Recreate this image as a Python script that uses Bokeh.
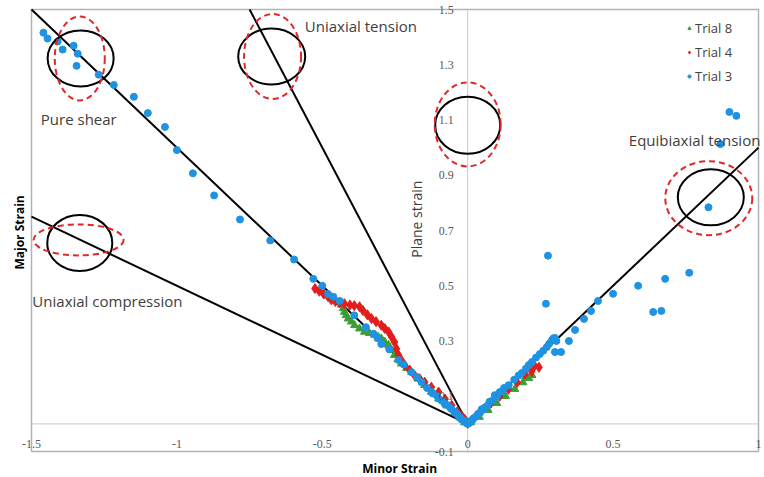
import math
from bokeh.plotting import figure
from bokeh.models import ColumnDataSource, LabelSet, Label, Legend, LegendItem, BoxAnnotation
from bokeh.embed import file_html
from bokeh.resources import INLINE

# ---------------- axes ----------------
x_min, x_max = -1.5, 1.0
y_min, y_max = -0.1, 1.5
x_ticks = [-1.5, -1.0, -0.5, 0.0, 0.5, 1.0]
x_tick_labels = ["-1.5", "-1", "-0.5", "0", "0.5", "1"]
y_ticks = [-0.1, 0.1, 0.3, 0.5, 0.7, 0.9, 1.1, 1.3, 1.5]
y_tick_labels = ["-0.1", "0.1", "0.3", "0.5", "0.7", "0.9", "1.1", "1.3", "1.5"]

# ---------------- data ----------------
trial3_x = [-1.459, -1.445, -1.410, -1.393, -1.355, -1.341, -1.345, -1.269, -1.217, -1.148,
            -1.100, -1.041, -1.000, -0.945, -0.872, -0.783, -0.679, -0.597, -0.531,
            -0.500, -0.480, -0.462, -0.440, -0.390, -0.350, -0.324, -0.310, -0.297, -0.270,
            -0.238, -0.220, -0.193, -0.175, -0.159, -0.140, -0.124, -0.105, -0.090, -0.070,
            -0.055, -0.040, -0.030, -0.021, -0.010, -0.004, 0.000, 0.005,
            -0.120, -0.100, -0.080, -0.060, -0.045, -0.035, -0.025, -0.015,
            0.010, 0.020, 0.035, 0.048, 0.060, 0.075, 0.093, 0.110, 0.125, 0.141, 0.160,
            0.175, 0.186, 0.200, 0.210, 0.221, 0.235, 0.248, 0.260, 0.272, 0.280, 0.290,
            0.300, 0.295, 0.305, 0.015, 0.028, 0.042, 0.055, 0.068, 0.085, 0.100, 0.118,
            0.276, 0.269, 0.300, 0.321, 0.348, 0.369, 0.400, 0.424, 0.448, 0.500, 0.586,
            0.638, 0.666, 0.679, 0.762, 0.828, 0.869, 0.900, 0.924]
trial3_y = [1.416, 1.395, 1.384, 1.355, 1.369, 1.340, 1.296, 1.264, 1.227, 1.184,
            1.125, 1.075, 0.991, 0.907, 0.827, 0.740, 0.664, 0.595, 0.525,
            0.500, 0.470, 0.460, 0.445, 0.393, 0.350, 0.326, 0.310, 0.289, 0.270,
            0.231, 0.215, 0.187, 0.170, 0.151, 0.130, 0.115, 0.100, 0.085, 0.068,
            0.053, 0.038, 0.026, 0.016, 0.008, 0.003, 0.000, 0.003,
            0.110, 0.092, 0.074, 0.058, 0.044, 0.033, 0.022, 0.012,
            0.010, 0.020, 0.035, 0.053, 0.060, 0.080, 0.104, 0.115, 0.130, 0.140, 0.160,
            0.175, 0.184, 0.200, 0.213, 0.224, 0.240, 0.253, 0.265, 0.278, 0.290, 0.304,
            0.311, 0.310, 0.300, 0.012, 0.026, 0.040, 0.052, 0.066, 0.084, 0.098, 0.118,
            0.609, 0.435, 0.260, 0.260, 0.300, 0.340, 0.380, 0.409, 0.445, 0.471, 0.500,
            0.405, 0.409, 0.525, 0.547, 0.784, 1.013, 1.129, 1.115]

trial4_x = [-0.525, -0.510, -0.495, -0.480, -0.469, -0.455, -0.440, -0.424, -0.405, -0.390,
            -0.372, -0.360, -0.345, -0.331, -0.315, -0.297, -0.285, -0.272, -0.262, -0.252,
            -0.245, -0.238, -0.228, -0.217, -0.200, -0.183, -0.165, -0.148, -0.125, -0.100,
            -0.078, -0.055, -0.035, -0.020, -0.010, 0.000,
            0.010, 0.030, 0.050, 0.080, 0.110, 0.140, 0.170, 0.197, 0.220, 0.245, 0.230]
trial4_y = [0.490, 0.480, 0.470, 0.460, 0.449, 0.443, 0.438, 0.435, 0.430, 0.428,
            0.424, 0.410, 0.395, 0.381, 0.370, 0.357, 0.345, 0.333, 0.315, 0.296,
            0.272, 0.249, 0.230, 0.213, 0.195, 0.176, 0.163, 0.151, 0.133, 0.115,
            0.090, 0.067, 0.045, 0.028, 0.016, 0.002,
            0.010, 0.030, 0.050, 0.075, 0.100, 0.125, 0.150, 0.180, 0.190, 0.205, 0.210]

trial8_x = [-0.458, -0.445, -0.434, -0.428, -0.424, -0.418, -0.411, -0.400, -0.389, -0.372,
            -0.355, -0.338, -0.320, -0.308, -0.297, -0.285, -0.272, -0.262, -0.252, -0.240,
            -0.228, -0.210, -0.193, -0.170, -0.148, -0.125, -0.100, -0.072, -0.045, -0.025,
            -0.010,
            0.010, 0.040, 0.070, 0.100, 0.130, 0.162, 0.190, 0.210, 0.221, 0.200]
trial8_y = [0.453, 0.440, 0.431, 0.418, 0.405, 0.393, 0.381, 0.370, 0.357, 0.345,
            0.333, 0.328, 0.322, 0.315, 0.309, 0.297, 0.285, 0.268, 0.249, 0.233,
            0.218, 0.202, 0.187, 0.163, 0.140, 0.116, 0.091, 0.066, 0.042, 0.022,
            0.005,
            0.005, 0.025, 0.050, 0.075, 0.100, 0.126, 0.150, 0.165, 0.176, 0.170]

# reference strain-path lines (through the origin)
ref_x0 = [-1.5, -0.75, -1.5, 0.0]
ref_y0 = [1.5, 1.5, 0.75, 0.0]
ref_x1 = [0.0, 0.0, 0.0, 1.0]
ref_y1 = [0.0, 0.0, 0.0, 1.0]

# zone markers (solid circles / dashed ellipses), centres in data units
zone_x = [-1.331, -0.674, 0.000, 0.836, -1.334]
zone_y = [1.323, 1.330, 1.081, 0.820, 0.655]
dash_x = [-1.334, -0.671, 0.000, 0.829, -1.338]
dash_y = [1.323, 1.330, 1.084, 0.817, 0.666]

# annotation texts
ann_text = ["Pure shear", "Uniaxial tension", "Uniaxial compression", "Equibiaxial tension"]
ann_x = [-1.468, -0.560, -1.497, 0.554]
ann_y = [1.102, 1.442, 0.443, 1.026]

# ---------------- styles ----------------
zone_w_px = [66, 67, 65, 66, 65]
zone_h_px = [56, 56, 57, 56, 56]
dash_w_px = [50, 57, 66, 87, 90]
dash_h_px = [84, 85, 84, 74, 31]

FONT = "Open Sans"
TXT = "#404040"
TICK = "#595959"

# plot-box placement inside the 764x477 canvas (pixels)
W, H = 764, 477
box_l, box_r, box_t, box_b = 31, 758, 9, 451
sx = (box_r - box_l) / (x_max - x_min)
sy = (box_b - box_t) / (y_max - y_min)
xr = (x_min - box_l / sx, x_max + (W - box_r) / sx)
yr = (y_min - (H - box_b) / sy, y_max + box_t / sy)

p = figure(width=W, height=H, x_range=xr, y_range=yr,
           output_backend="svg", toolbar_location=None,
           x_axis_location=None, y_axis_location=None,
           min_border=0)
p.xgrid.visible = False
p.ygrid.visible = False
p.outline_line_color = None
p.background_fill_color = "white"
p.border_fill_color = "white"

# plot box
p.add_layout(BoxAnnotation(left=x_min, right=x_max, bottom=y_min, top=y_max,
                           fill_alpha=0, line_color="black", line_width=1.5, level="underlay"))

# gray axes through zero
p.segment(x0=[0, x_min], y0=[y_min, 0], x1=[0, x_max], y1=[y_max, 0],
          line_color="#c8c8c8", line_width=1)

# reference lines
p.segment(x0=ref_x0, y0=ref_y0, x1=ref_x1, y1=ref_y1, line_color="black", line_width=2)

# data
r8 = p.scatter(trial8_x, trial8_y, marker="triangle", size=8, fill_color="#3A9E35",
               line_color="#3A9E35")
r4 = p.scatter(trial4_x, trial4_y, marker="diamond", size=10, fill_color="#E41C1C",
               line_color="#E41C1C")
r3 = p.scatter(trial3_x, trial3_y, marker="circle", size=7, fill_color="#1F93E2",
               line_color="#1F93E2")

# zone circles
zsrc = ColumnDataSource(dict(x=zone_x, y=zone_y, w=zone_w_px, h=zone_h_px))
p.ellipse(x="x", y="y", width="w", height="h", width_units="screen", height_units="screen",
          source=zsrc, fill_color=None, line_color="black", line_width=2)
dsrc = ColumnDataSource(dict(x=dash_x, y=dash_y, w=dash_w_px, h=dash_h_px))
p.ellipse(x="x", y="y", width="w", height="h", width_units="screen", height_units="screen",
          source=dsrc, fill_color=None, line_color="#E0282A", line_width=2, line_dash="6 4")

# tick labels
xs = ColumnDataSource(dict(x=x_ticks, y=[0] * len(x_ticks), t=x_tick_labels))
p.add_layout(LabelSet(x="x", y="y", text="t", source=xs, y_offset=-20, text_align="center",
                      text_baseline="middle", text_font=FONT, text_font_size="12px",
                      text_color=TICK))
ys = ColumnDataSource(dict(x=[0] * len(y_ticks), y=y_ticks, t=y_tick_labels))
p.add_layout(LabelSet(x="x", y="y", text="t", source=ys, x_offset=-14, text_align="right",
                      text_baseline="middle", text_font=FONT, text_font_size="12px",
                      text_color=TICK))

# annotations
for t, x, y in zip(ann_text, ann_x, ann_y):
    p.add_layout(Label(x=x, y=y, text=t, text_align="left", text_baseline="middle",
                       text_font=FONT, text_font_size="15px", text_color=TXT))
p.add_layout(Label(x=-0.175, y=0.741, text="Plane strain", angle=math.pi / 2,
                   text_align="center", text_baseline="middle", text_font=FONT,
                   text_font_size="14px", text_color=TXT))

# axis titles
p.add_layout(Label(x=-0.234, y=y_min, y_offset=-17, text="Minor Strain", text_align="center",
                   text_baseline="middle", text_font=FONT, text_font_size="12px",
                   text_font_style="bold", text_color="black"))
p.add_layout(Label(x=x_min, x_offset=-12, y=0.693, text="Major Strain", angle=math.pi / 2,
                   text_align="center", text_baseline="middle", text_font=FONT,
                   text_font_size="12px", text_font_style="bold", text_color="black"))

legend = Legend(items=[LegendItem(label="Trial 8", renderers=[r8]),
                       LegendItem(label="Trial 4", renderers=[r4]),
                       LegendItem(label="Trial 3", renderers=[r3])],
                location=(685, 391), border_line_color=None, background_fill_alpha=0,
                label_text_font=FONT, label_text_font_size="13px", label_text_color=TXT,
                glyph_width=8, glyph_height=20, spacing=4, padding=6, margin=0,
                label_standoff=2)
p.add_layout(legend)

open("out.html", "w").write(file_html(p, INLINE))
